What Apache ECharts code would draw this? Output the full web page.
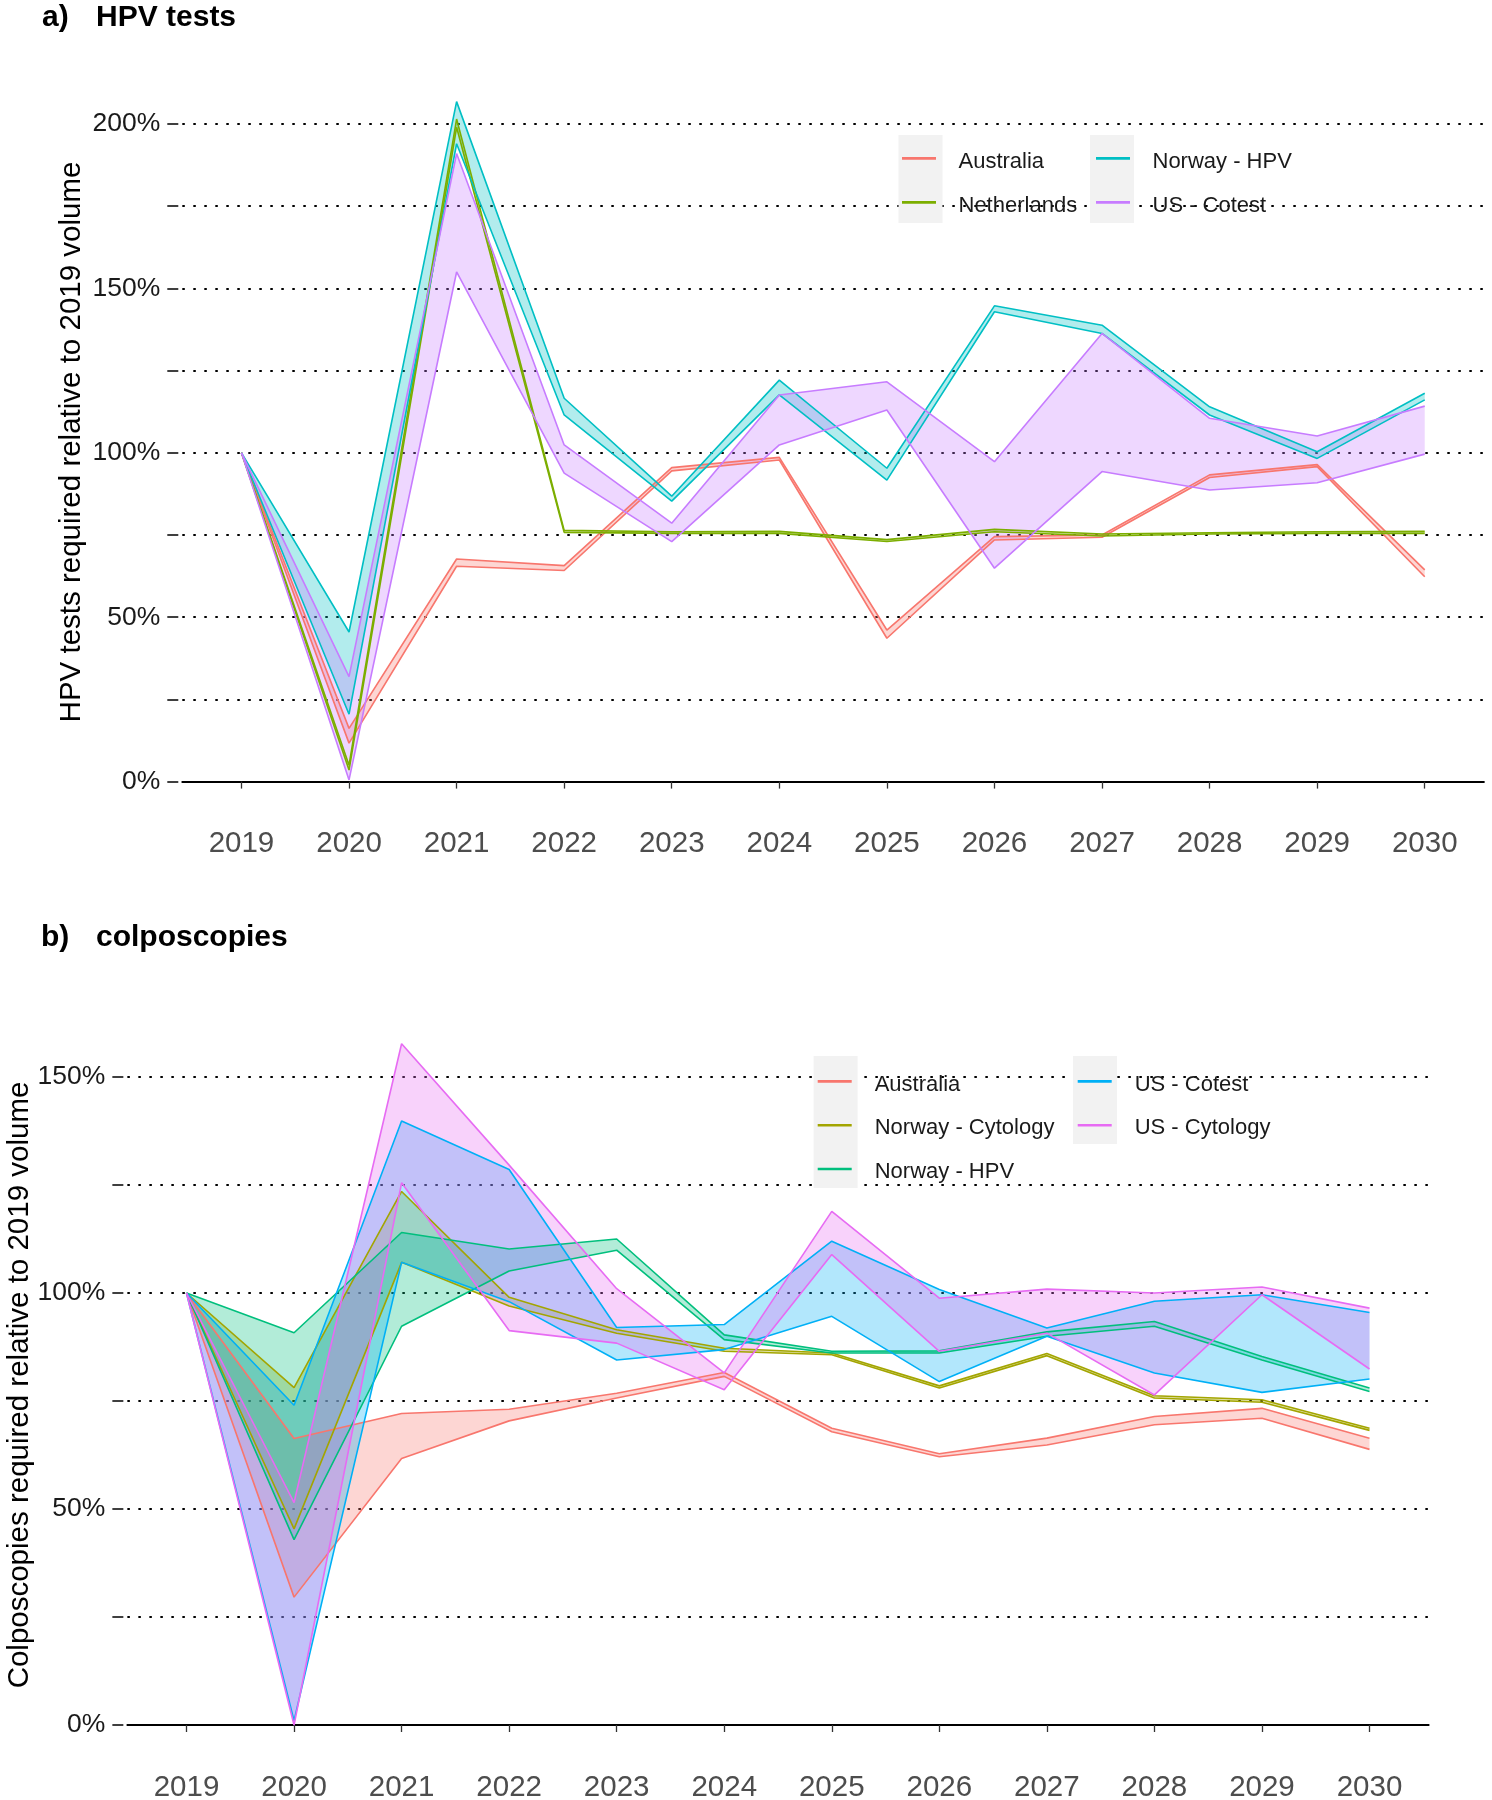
<!DOCTYPE html>
<html>
<head>
<meta charset="utf-8">
<script src="https://cdn.jsdelivr.net/npm/echarts@6/dist/echarts.min.js"></script>
<style>
html,body{margin:0;padding:0;background:#fff;}
#chart{width:1492px;height:1800px;}
</style>
</head>
<body>
<div id="chart"></div>
<script>
// ---------- data ----------
const years = [2019, 2020, 2021, 2022, 2023, 2024, 2025, 2026, 2027, 2028, 2029, 2030];

// panel a) HPV tests (% of 2019 volume), lower / upper bounds
const hpvSeriesNames = ['Australia', 'Netherlands', 'Norway - HPV', 'US - Cotest'];
const hpvAustraliaLo   = [100, 11.7, 65.5, 64.2, 94.5, 97.8, 43.6, 73.5, 74.3, 92.5, 95.8, 62.3];
const hpvAustraliaHi   = [100, 16.2, 67.7, 65.7, 95.5, 98.6, 46.1, 74.5, 75.0, 93.3, 96.4, 64.4];
const hpvNetherlandsLo = [100, 3.5, 199.0, 75.8, 75.5, 75.5, 73.0, 76.0, 74.7, 75.3, 75.5, 75.5];
const hpvNetherlandsHi = [100, 5.0, 201.5, 76.4, 76.0, 76.1, 73.6, 76.7, 75.3, 75.7, 76.0, 76.1];
const hpvNorwayLo      = [100, 20.5, 194.0, 111.5, 85.3, 117.6, 91.7, 142.9, 136.3, 111.5, 98.3, 116.1];
const hpvNorwayHi      = [100, 45.5, 206.8, 116.6, 86.8, 122.1, 95.3, 144.7, 138.8, 114.0, 100.3, 118.1];
const hpvUsCotestLo    = [100, 0.5, 155.0, 93.8, 73.0, 102.4, 113.0, 64.9, 94.3, 88.7, 90.9, 99.6];
const hpvUsCotestHi    = [100, 31.9, 191.0, 102.4, 78.6, 117.6, 121.6, 97.3, 136.3, 110.5, 105.1, 114.2];

// panel b) colposcopies (% of 2019 volume), lower / upper bounds
const colpSeriesNames = ['Australia', 'Norway - Cytology', 'Norway - HPV', 'US - Cotest', 'US - Cytology'];
const colpAustraliaLo = [100, 29.6, 61.7, 70.4, 75.7, 80.7, 67.9, 62.1, 64.8, 69.5, 71.0, 63.8];
const colpAustraliaHi = [100, 66.3, 72.1, 73.1, 76.8, 81.6, 68.7, 62.8, 66.4, 71.4, 73.3, 66.4];
const colpNorCytoLo   = [100, 45.4, 107.1, 97.0, 90.7, 86.5, 85.7, 78.0, 85.5, 75.7, 74.7, 68.2];
const colpNorCytoHi   = [100, 78.1, 123.5, 99.0, 91.5, 87.2, 86.1, 78.5, 86.0, 76.2, 75.3, 68.7];
const colpNorHpvLo    = [100, 42.9, 92.3, 105.1, 109.9, 89.2, 86.1, 86.1, 90.0, 92.3, 84.5, 77.2];
const colpNorHpvHi    = [100, 90.8, 114.0, 110.2, 112.5, 90.3, 86.5, 86.6, 91.0, 93.4, 85.3, 78.0];
const colpUsCotestLo  = [100, 1.0, 107.1, 98.0, 84.5, 86.9, 94.6, 79.5, 90.0, 81.5, 77.0, 80.1];
const colpUsCotestHi  = [100, 74.0, 139.8, 128.6, 92.0, 92.7, 112.0, 100.8, 91.9, 98.1, 99.6, 95.5];
const colpUsCytoLo    = [100, 0.0, 125.5, 91.3, 88.4, 77.6, 108.9, 86.5, 90.7, 76.4, 99.6, 82.4];
const colpUsCytoHi    = [100, 51.5, 157.7, 129.6, 101.0, 81.5, 118.9, 98.8, 100.9, 100.0, 101.4, 96.5];

// tick values
const hpvYMax = 200, colpYMax = 150, yStep = 25, yLabelStep = 50;

// ---------- styling ----------
const FONT = 'Liberation Sans, Arial, Helvetica, sans-serif';
const hpvColors  = ['#F8766D', '#7CAE00', '#00BFC4', '#C77CFF'];
const colpColors = ['#F8766D', '#A3A500', '#00BF7D', '#00B0F6', '#E76BF3'];

let uid = 0;
function band(name, color, lo, hi, gridIdx) {
  const axes = { xAxisIndex: gridIdx * 2, yAxisIndex: gridIdx };
  const fill = Object.assign({
    id: 'fill' + (uid++), name: name, type: 'custom', coordinateSystem: 'cartesian2d',
    silent: true, clip: false, z: 2, itemStyle: { color: color },
    data: [[years[0], lo[0]]],
    renderItem: function (params, api) {
      if (params.dataIndex !== 0) return;
      const upper = years.map((y, i) => api.coord([y, hi[i]]));
      const lower = years.map((y, i) => api.coord([y, lo[i]])).reverse();
      return { type: 'polygon', silent: true,
               shape: { points: upper.concat(lower) },
               style: { fill: color, opacity: 0.3 } };
    }
  }, axes);
  const line = (vals) => Object.assign({
    id: 'line' + (uid++), name: name, type: 'line', symbol: 'none', clip: false, silent: true, z: 2,
    lineStyle: { color: color, width: 1.6 }, itemStyle: { color: color }, emphasis: { disabled: true },
    data: years.map((y, i) => [y, vals[i]])
  }, axes);
  return [fill, line(lo), line(hi)];
}

const hpvBands = [
  [hpvAustraliaLo, hpvAustraliaHi], [hpvNetherlandsLo, hpvNetherlandsHi],
  [hpvNorwayLo, hpvNorwayHi], [hpvUsCotestLo, hpvUsCotestHi]
];
const colpBands = [
  [colpAustraliaLo, colpAustraliaHi], [colpNorCytoLo, colpNorCytoHi], [colpNorHpvLo, colpNorHpvHi],
  [colpUsCotestLo, colpUsCotestHi], [colpUsCytoLo, colpUsCytoHi]
];

let series = [];
hpvBands.forEach((b, i) => { series = series.concat(band(hpvSeriesNames[i], hpvColors[i], b[0], b[1], 0)); });
colpBands.forEach((b, i) => { series = series.concat(band(colpSeriesNames[i], colpColors[i], b[0], b[1], 1)); });

const XMIN = 2018.45, XMAX = 2030.55;

function xAxesFor(gridIdx) {
  return [
    { gridIndex: gridIdx, type: 'value', min: XMIN, max: XMAX, position: 'bottom',
      axisLine: { show: true, onZero: false, lineStyle: { color: '#000', width: 2 } },
      axisTick: { show: false }, axisLabel: { show: false }, splitLine: { show: false } },
    { gridIndex: gridIdx, type: 'value', min: XMIN, max: XMAX, position: 'bottom', offset: 33.4,
      axisLine: { show: false },
      axisTick: { show: true, customValues: years, length: 7, lineStyle: { color: '#333', width: 1.3 } },
      axisLabel: { show: true, customValues: years, margin: 14, fontSize: 29.5, color: '#4D4D4D',
                   fontFamily: FONT, formatter: v => String(Math.round(v)) },
      splitLine: { show: false } }
  ];
}

function yAxisFor(gridIdx, max) {
  return {
    gridIndex: gridIdx, type: 'value', min: 0, max: max, interval: yStep, offset: 4,
    axisLine: { show: false },
    axisTick: { show: true, interval: 0, length: 11, lineStyle: { color: '#000', width: 1.5 } },
    axisLabel: { margin: 18, fontSize: 26.5, color: '#1a1a1a', fontFamily: FONT,
                 formatter: v => (v % yLabelStep === 0 ? v + '%' : '') },
    splitLine: { show: true, interval: 0, showMinLine: false,
                 lineStyle: { color: '#000', width: 2, type: [2.5, 8.5] } }
  };
}

// legend key: a 2.6px bar at the top of a 9px-tall box, so the label sits slightly below the bar
const KEY_ICON = 'path://M0,0L34,0L34,2.6L0,2.6Z M0,9L0.001,9';

function legendCol(left, top, names, colors, gap, iw) {
  return {
    orient: 'vertical', left: left, top: top, padding: 0, itemGap: gap,
    itemWidth: iw, itemHeight: 9, icon: KEY_ICON, selectedMode: false,
    data: names.map((n, i) => ({ name: n, icon: KEY_ICON, itemStyle: { color: colors[i], borderWidth: 0 } })),
    textStyle: { fontSize: 22, color: '#1a1a1a', fontFamily: FONT, padding: [0, 0, 0, 17.5] }
  };
}

const option = {
  animation: false,
  backgroundColor: '#fff',
  textStyle: { fontFamily: FONT },
  grid: [
    { left: 182.3, right: 8.1, top: 124, bottom: 1800 - 781.6, containLabel: false, outerBoundsMode: 'none' },
    { left: 127.35, right: 63.35, top: 1077, bottom: 75, containLabel: false, outerBoundsMode: 'none' }
  ],
  xAxis: xAxesFor(0).concat(xAxesFor(1)),
  yAxis: [yAxisFor(0, hpvYMax), yAxisFor(1, colpYMax)],
  legend: [
    legendCol(902, 150.6, [hpvSeriesNames[0], hpvSeriesNames[1]], [hpvColors[0], hpvColors[1]], 22, 34),
    legendCol(1096, 150.6, [hpvSeriesNames[2], hpvSeriesNames[3]], [hpvColors[2], hpvColors[3]], 22, 34),
    legendCol(817.7, 1073.6, [colpSeriesNames[0], colpSeriesNames[1], colpSeriesNames[2]],
              [colpColors[0], colpColors[1], colpColors[2]], 21.8, 35),
    legendCol(1077.7, 1073.6, [colpSeriesNames[3], colpSeriesNames[4]], [colpColors[3], colpColors[4]], 21.8, 35)
  ],
  graphic: [
    { type: 'rect', z: 3, silent: true, shape: { x: 898.5, y: 135, width: 44, height: 88 }, style: { fill: '#F2F2F2' } },
    { type: 'rect', z: 3, silent: true, shape: { x: 1090, y: 135, width: 44, height: 88 }, style: { fill: '#F2F2F2' } },
    { type: 'rect', z: 3, silent: true, shape: { x: 813.6, y: 1056, width: 44, height: 132 }, style: { fill: '#F2F2F2' } },
    { type: 'rect', z: 3, silent: true, shape: { x: 1073, y: 1056, width: 44, height: 88 }, style: { fill: '#F2F2F2' } },
    { type: 'text', z: 5, x: 42, y: 18, style: { text: 'a)', fill: '#000', font: 'bold 30px ' + FONT, verticalAlign: 'middle' } },
    { type: 'text', z: 5, x: 96, y: 18, style: { text: 'HPV tests', fill: '#000', font: 'bold 30px ' + FONT, verticalAlign: 'middle' } },
    { type: 'text', z: 5, x: 41, y: 937.5, style: { text: 'b)', fill: '#000', font: 'bold 30px ' + FONT, verticalAlign: 'middle' } },
    { type: 'text', z: 5, x: 96, y: 937.5, style: { text: 'colposcopies', fill: '#000', font: 'bold 30px ' + FONT, verticalAlign: 'middle' } },
    { type: 'text', z: 5, x: 72, y: 442, rotation: Math.PI / 2,
      style: { text: 'HPV tests required relative to 2019 volume', fill: '#000', font: '29.5px ' + FONT, align: 'center', verticalAlign: 'middle' } },
    { type: 'text', z: 5, x: 20, y: 1385, rotation: Math.PI / 2,
      style: { text: 'Colposcopies required relative to 2019 volume', fill: '#000', font: '29.5px ' + FONT, align: 'center', verticalAlign: 'middle' } }
  ],
  series: series
};

const chart = echarts.init(document.getElementById('chart'), null, { renderer: 'canvas', width: 1492, height: 1800 });
chart.setOption(option);
</script>
</body>
</html>
